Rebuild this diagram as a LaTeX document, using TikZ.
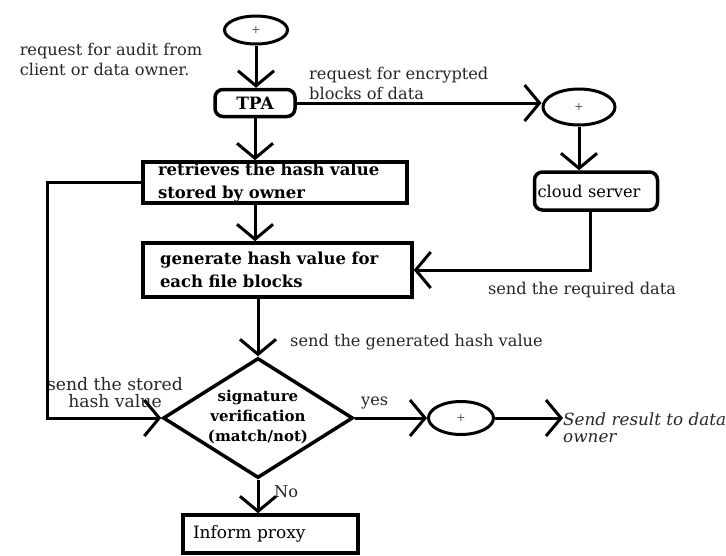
\documentclass[tikz,border=0pt]{standalone}
\usepackage{fontspec}
\setmainfont{DejaVu Serif}
\usetikzlibrary{arrows.meta,shapes.geometric}
\tikzset{
  lbl/.style   = {inner sep=0pt,text=black!85,
                  font=\fontsize{16.2}{20}\selectfont},
  box/.style   = {draw,line width=3.5pt,inner ysep=0pt,align=left,
                  font=\fontsize{16.5}{23}\selectfont\bfseries},
  rbox/.style  = {box,rounded corners=8pt},
  oval/.style  = {ellipse,draw,line width=3pt,inner sep=0pt,
                  font=\fontsize{11}{12}\selectfont,text=black!70},
  dmd/.style   = {diamond,draw,line width=3.5pt,inner sep=0pt,
                  minimum width=190pt,minimum height=120pt},
  arr/.style   = {line width=3pt,
                  -{Straight Barb[length=15pt,width=36pt,line width=3pt]}},
}

\begin{document}
\begin{tikzpicture}[x=1pt,y=-1pt]
  \useasboundingbox (0,0) rectangle (726,555);
  % main column
  \node[oval,minimum width=63pt,minimum height=28pt] (st) at (256,30) {+};
  \node[rbox,minimum width=80pt,minimum height=27pt,
        font=\fontsize{17}{20}\selectfont\bfseries] (tpa) at (255,103) {TPA};
  \node[box,inner xsep=15pt,text width=234pt,minimum height=41pt]
       (retr) at (275,182.5) {retrieves the hash value\\stored by owner};
  \node[box,inner xsep=17pt,text width=235pt,minimum height=54pt]
       (gen) at (277.5,270) {generate hash value for\\each file blocks};
  \node[dmd] (sig) at (258,418) {};
  \node[inner sep=0pt,align=center,font=\fontsize{15}{20}\selectfont\bfseries]
       (sigt) at (258,417) {signature\\verification\\(match/not)};
  \node[box,inner xsep=10pt,text width=155pt,minimum height=38pt,
        font=\fontsize{17}{20}\selectfont] (inf) at (270.5,534) {Inform proxy};
  % server side
  \node[oval,minimum width=72pt,minimum height=36pt] (sp) at (579,107) {+};
  \node[rbox,inner xsep=3pt,text width=117pt,minimum height=38pt,
        font=\fontsize{16.3}{20}\selectfont] (cs) at (596,191) {cloud server};
  % result side
  \node[oval,minimum width=65pt,minimum height=33pt] (ok) at (461,418) {+};
  \node[lbl,anchor=west,align=left,font=\fontsize{16.8}{17}\selectfont\itshape]
       (res) at (563,428) {Send result to data\\owner};
  \coordinate (lp) at (47,300);
  % labels
  \node[lbl,align=left] (laudit) at (111,59) {request for audit from\\client or data owner.};
  \node[lbl,anchor=west,align=left] (lenc) at (309,83) {request for encrypted\\blocks of data};
  \node[lbl] (lreq) at (582,290) {send the required data};
  \node[lbl,anchor=west] (lgen) at (290,342) {send the generated hash value};
  \node[lbl,align=center,font=\fontsize{17.2}{17}\selectfont]
       (lsto) at (115,393) {send the stored\\hash value};
  \node[lbl,anchor=west] (lyes) at (361,403) {yes};
  \node[lbl,anchor=west] (lno) at (274,492) {No};
  % connectors
  \draw[arr] (st.south) -- (st.south |- tpa.north);
  \draw[arr] (tpa.south) -- (tpa.south |- retr.north);
  \draw[arr] (tpa.south |- retr.south) -- (tpa.south |- gen.north);
  \draw[arr] (sig.north |- gen.south) -- (sig.north);
  \draw[arr] (sig.south) -- (sig.south |- inf.north);
  \draw[arr] (tpa.east) -- (tpa.east -| sp.west);
  \draw[arr] (sp.south) -- (sp.south |- cs.north);
  \draw[arr] ([xshift=-6pt]cs.south) |- (gen.east);
  \draw[arr] (retr.west) -| (lp) |- (sig.west);
  \draw[arr] (sig.east) -- (ok.west);
  \draw[arr] (ok.east) -- (ok.east -| res.west);
\end{tikzpicture}
\end{document}
